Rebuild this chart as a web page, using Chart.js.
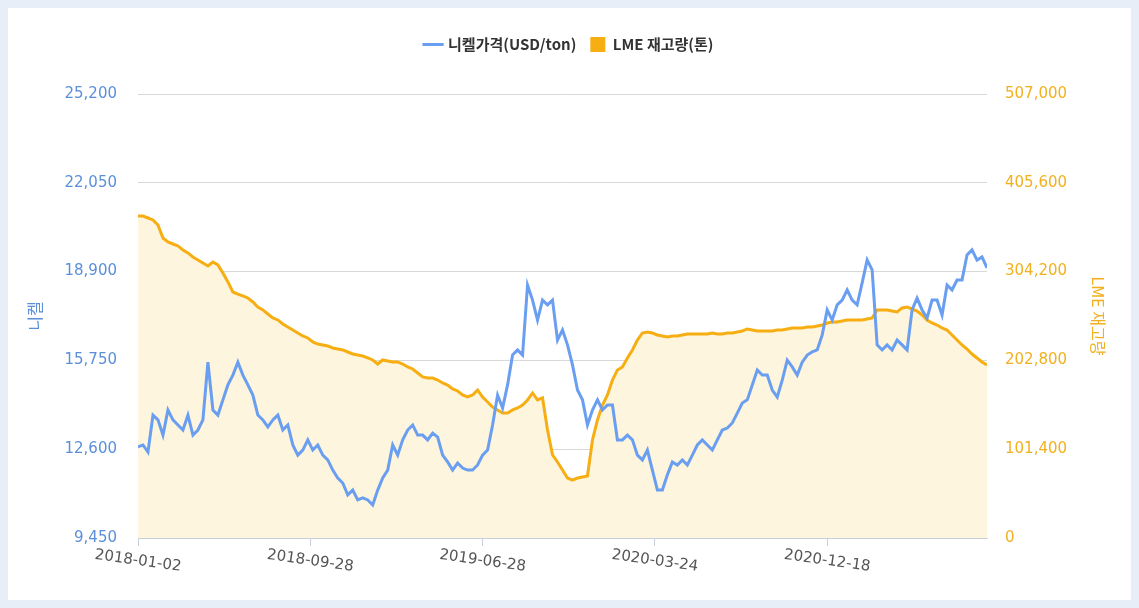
<!DOCTYPE html>
<html><head><meta charset="utf-8">
<script src="https://cdn.jsdelivr.net/npm/chart.js@4/dist/chart.umd.min.js"></script>
<style>
html,body{margin:0;padding:0;background:#e7eef7;}
#wrap{position:absolute;left:8px;top:8px;width:1123px;height:592px;background:#fff;}
</style></head>
<body><div id="wrap"><canvas id="c"></canvas></div>
<script>
const seriesNames = ['니켈가격(USD/ton)', 'LME 재고량(톤)'];
const leftTitle = '니켈';
const rightTitle = 'LME 재고량';
const tickLabels = ['2018-01-02', '2018-09-28', '2019-06-28', '2020-03-24', '2020-12-18'];
const tickIndex = [0, 34.5, 69, 103.5, 138];
const nickel = [
12680,12750,12500,13810,13640,13100,13990,13640,13460,13280,
13810,13100,13280,13640,15690,13990,13810,14350,14880,15230,
15690,15230,14880,14520,13810,13640,13390,13640,13810,13280,
13460,12750,12390,12570,12930,12570,12750,12390,12220,11860,
11580,11400,10980,11150,10800,10870,10800,10620,11150,11580,
11860,12750,12390,12930,13280,13460,13100,13100,12930,
13170,13030,12390,12150,11860,12110,11930,11860,11860,12040,
12390,12570,13460,14520,14060,14880,15940,16120,15940,18420,
17890,17180,17890,17720,17890,16470,16830,16300,15590,14700,
14350,13460,13990,14350,13990,14170,14170,12930,12930,13100,
12930,12390,12220,12570,11860,11150,11150,11690,12150,12040,
12220,12040,12390,12750,12930,12750,12570,
12930,13280,13350,13530,13880,14240,14350,14880,15410,15230,
15230,14700,14450,15050,15760,15520,15230,15690,15940,16050,
16120,16650,17540,17180,17720,17890,18250,17890,17720,18500,
19310,18960,16300,16120,16300,16120,16470,16300,16120,17540,
17960,17540,17250,17890,17890,17360,18420,18250,18600,18600,
19490,19670,19310,19420,19030];
const stock = [
367700,367700,365400,363200,357400,342600,338000,335700,333500,328900,
325500,320900,317500,314100,310600,315200,311800,302600,292400,280900,
278600,276400,274100,269500,263800,260400,255800,251200,249000,244400,
241000,237500,234100,230700,228400,223800,221500,220400,219300,217000,
215800,214700,212400,210100,209000,207800,205600,203300,198700,203300,
202100,201000,201000,198700,195300,193000,188400,183900,182700,
182700,180400,177000,174700,170200,167900,163300,161000,163300,169000,
161000,155300,149600,146200,142800,142800,146200,148500,151900,157600,
165600,157600,159900,123300,94800,86800,77700,68500,66200,68500,
69700,70800,111900,134800,151900,163300,180400,191900,195300,205600,
214700,226100,234100,235300,234100,231800,230700,229500,230700,230700,
231800,233000,233000,233000,233000,233000,234100,
233000,233000,234100,234100,235300,236400,238700,237500,236400,236400,
236400,236400,237500,237500,238700,239800,239800,239800,241000,241000,
242100,243200,245500,246700,246700,247800,249000,249000,249000,249000,
250100,251200,260400,260400,260400,259200,258100,262700,263800,261500,
259200,254700,249000,245500,243200,239800,237500,231800,226100,220400,
215800,210100,205600,201000,197600];

const FONT = "'Noto Sans CJK KR','Noto Sans',sans-serif";
const NFONT = "'DejaVu Sans',sans-serif";
const BLUE = '#6a9ef0', ORANGE = '#f6ae12';
const fmt = v => Math.round(v).toLocaleString('en-US');

const xLabelPlugin = {
  id:'xlab',
  afterDraw(chart){
    const ctx = chart.ctx, xs = chart.scales.x, y0 = chart.chartArea.bottom;
    ctx.save();
    ctx.font = '15px ' + NFONT; ctx.fillStyle = '#555';
    ctx.textAlign = 'center'; ctx.textBaseline = 'middle';
    tickLabels.forEach((t,i)=>{
      const px = xs.getPixelForValue(tickIndex[i]);
      ctx.save(); ctx.translate(px, y0 + 23); ctx.rotate(8*Math.PI/180);
      ctx.fillText(t, 0, 0); ctx.restore();
    });
    ctx.restore();
  }
};
const legendFit = {
  id:'legfit',
  afterInit(chart){
    const lg = chart.legend, orig = lg.fit;
    lg.fit = function(){ orig.call(this); this.height = 71; };
  }
};

new Chart(document.getElementById('c'), {
  type:'line',
  data:{
    datasets:[
      {label:seriesNames[0], data:nickel.map((v,i)=>({x:i,y:v})), yAxisID:'y', borderColor:BLUE, backgroundColor:BLUE,
       borderWidth:3, pointRadius:0, tension:0, fill:false, order:0},
      {label:seriesNames[1], data:stock.map((v,i)=>({x:i,y:v})), yAxisID:'y1', borderColor:ORANGE, backgroundColor:'#fdf5dd',
       borderWidth:3, pointRadius:0, tension:0, fill:'origin', order:1}
    ]
  },
  options:{
    responsive:true, maintainAspectRatio:false, animation:false,
    layout:{padding:{top:15,left:0,right:0,bottom:0}},
    plugins:{
      tooltip:{enabled:false},
      legend:{
        position:'top',
        labels:{
          font:{family:FONT,size:15,weight:'bold'}, color:'#333', padding:14,
          usePointStyle:true,
          generateLabels(chart){
            return chart.data.datasets.map((d,i)=>({
              text:d.label, datasetIndex:i, fontColor:'#333',
              fillStyle: i===0?BLUE:ORANGE, strokeStyle: i===0?BLUE:ORANGE,
              lineWidth: i===0?3:0, pointStyle: i===0?'line':'rect', hidden:false
            }));
          }
        }
      }
    },
    scales:{
      x:{type:'linear', min:0, max:170,
        afterBuildTicks(s){ s.ticks = tickIndex.map(v=>({value:v})); },
        afterFit(s){ s.height = 62; },
        grid:{drawOnChartArea:false, tickLength:8, color:'#c8d0dc'},
        border:{color:'#c8d0dc'},
        ticks:{color:'rgba(0,0,0,0)', maxRotation:0, autoSkip:false, callback:(v,i)=>'', font:{size:15}}
      },
      y:{position:'left', min:9450, max:25200,
        afterBuildTicks(s){ const t=[]; for(let v=9450; v<=25200; v+=3150) t.push({value:v}); s.ticks=t; },
        afterFit(s){ s.width = 130; },
        grid:{color:'#d8d8d8', drawTicks:false}, border:{display:false},
        ticks:{color:'#5b8fd9', font:{family:NFONT,size:15}, padding:21, callback:v=>fmt(v)},
        title:{display:true, text:leftTitle, color:'#5b8fd9', font:{family:FONT,size:16}, padding:{top:17,bottom:4}}
      },
      y1:{position:'right', min:0, max:507000,
        afterBuildTicks(s){ const t=[]; for(let v=0; v<=507000; v+=101400) t.push({value:v}); s.ticks=t; },
        afterFit(s){ s.width = 144; },
        grid:{drawOnChartArea:false, drawTicks:false}, border:{display:false},
        ticks:{color:'#f2b01e', font:{family:NFONT,size:15}, padding:18, callback:v=>fmt(v)},
        title:{display:true, text:rightTitle, color:'#f2b01e', font:{family:FONT,size:16}, padding:{top:23,bottom:4}}
      }
    }
  },
  plugins:[xLabelPlugin, legendFit]
});
</script></body></html>
